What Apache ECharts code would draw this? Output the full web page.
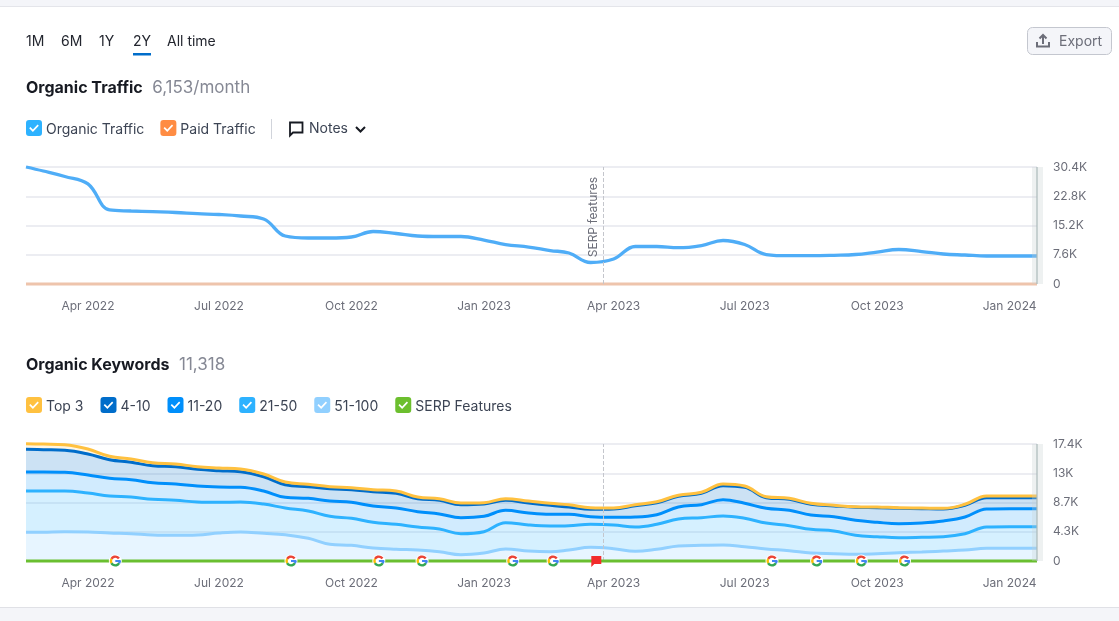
<!DOCTYPE html>
<html><head><meta charset="utf-8">
<style>html,body{margin:0;padding:0;background:#fff}#c{width:1119px;height:621px}</style>
<script src="https://cdn.jsdelivr.net/npm/echarts@6/dist/echarts.min.js"></script>
</head><body><div id="c"></div>
<script>
const dates = ['2022-02-17','2022-03-01','2022-03-16','2022-04-01','2022-04-16','2022-05-01','2022-05-16','2022-06-01','2022-06-16','2022-07-01','2022-07-16','2022-08-01','2022-08-16','2022-09-01','2022-09-16','2022-10-01','2022-10-16','2022-11-01','2022-11-16','2022-12-01','2022-12-16','2023-01-01','2023-01-16','2023-02-01','2023-02-16','2023-03-01','2023-03-16','2023-04-01','2023-04-16','2023-05-01','2023-05-16','2023-06-01','2023-06-16','2023-07-01','2023-07-16','2023-08-01','2023-08-16','2023-09-01','2023-09-16','2023-10-01','2023-10-16','2023-11-01','2023-11-16','2023-12-01','2023-12-16','2024-01-01','2024-01-20'];
const organicTraffic = [30400,29360,27930,26000,19230,18970,18790,18580,18270,18060,17670,16890,12470,11950,11950,12210,13640,13120,12470,12340,12340,11430,10260,9610,8700,8050,5590,6500,9740,9740,9430,10000,11300,10260,7660,7350,7350,7460,7660,8310,8960,8440,7790,7530,7280,7280,7280];
const paidTraffic = [0,0,0,0,0,0,0,0,0,0,0,0,0,0,0,0,0,0,0,0,0,0,0,0,0,0,0,0,0,0,0,0,0,0,0,0,0,0,0,0,0,0,0,0,0,0,0];
const top3 = [833,848,833,744,506,491,446,401,387,401,401,401,401,357,297,297,297,342,253,238,253,193,238,297,297,342,238,149,149,149,149,149,253,193,149,149,149,104,89,104,89,104,104,149,253,253,253];
const pos4to10 = [3375,3316,3271,3123,2766,2587,2528,2573,2483,2424,2320,2126,1874,1725,1829,1874,2126,2186,1933,2037,1933,1829,1487,1487,1338,1086,1100,1234,1680,1784,1591,1695,2082,2379,1576,1636,1591,1591,1933,2171,2290,2126,1784,1740,1680,1636,1636];
const pos11to20 = [2825,2825,2781,2677,2632,2573,2468,2424,2379,2275,2186,1933,1591,1888,2275,2379,2424,2424,2275,2231,2379,2290,1844,1784,1740,1695,1130,1145,1487,1428,1784,1933,2424,2231,2186,2290,2126,2126,2231,2141,2082,2126,2335,2483,2677,2677,2677];
const pos21to50 = [6141,6126,6067,5799,5502,5457,5309,5205,4907,4565,4461,4357,3970,4060,4164,4015,3822,3718,3420,3375,3123,3167,3911,3866,3822,3613,3420,3524,3613,3718,4015,4104,4312,4223,3866,3718,3524,3375,2825,2528,2231,2186,2126,2424,3167,3212,3212];
const pos51to100 = [4268,4283,4342,4312,4164,4060,3866,3822,3866,4164,4312,4119,3911,3375,2483,2335,1933,1740,1636,1383,937,1190,1784,1487,1383,1636,2037,1829,1442,1740,2231,2335,2379,2126,1784,1532,1190,1086,996,1086,1234,1338,1487,1636,1888,1888,1888];
const serpFeatures = [0,0,0,0,0,0,0,0,0,0,0,0,0,0,0,0,0,0,0,0,0,0,0,0,0,0,0,0,0,0,0,0,0,0,0,0,0,0,0,0,0,0,0,0,0,0,0];
const googleUpdateDates = ['2022-04-20','2022-08-20','2022-10-20','2022-11-19','2023-01-21','2023-02-18','2023-07-20','2023-08-20','2023-09-20','2023-10-20'];
const flagDates = ['2023-03-20'];
const serpNoteDate = '2023-03-25';
const xTickDates = ['2022-04-01','2022-07-01','2022-10-01','2023-01-01','2023-04-01','2023-07-01','2023-10-01','2024-01-01'];
const xTickLabels = ['Apr 2022','Jul 2022','Oct 2022','Jan 2023','Apr 2023','Jul 2023','Oct 2023','Jan 2024'];
const yTicksTraffic = ['0','7.6K','15.2K','22.8K','30.4K'];
const yTicksKeywords = ['0','4.3K','8.7K','13K','17.4K'];
const tabs = ['1M','6M','1Y','2Y','All time'];

const FONT = 'Inter, "Noto Sans", sans-serif';
const GRID_TXT = '#6c6e79', LEG_TXT = '#3c4454';
const ts = d => echarts.time.parse(d).getTime();
const xMin = ts(dates[0]);
const xMax = ts(dates[dates.length - 1]);
const tickTs = xTickDates.map(ts);
const checkIcon = 'path://M3 0H13A3 3 0 0 1 16 3V13A3 3 0 0 1 13 16H3A3 3 0 0 1 0 13V3A3 3 0 0 1 3 0Z M3.2 8.2L6.9 11.9L12.8 5.8L11.6 4.6L6.9 9.5L4.4 7Z';
const pts = arr => dates.map((d, i) => [d, arr[i]]);
const SMOOTH = 0.4;

function xAxis(gridIndex) {
  return {
    type: 'time', gridIndex, min: xMin, max: xMax, splitNumber: 7,
    axisLine: {show: false}, axisTick: {show: false}, splitLine: {show: false}, minorTick: {show: false},
    axisLabel: {
      hideOverlap: false, margin: 16, color: GRID_TXT, fontSize: 12, fontFamily: FONT, fontWeight: 400,
      formatter: v => xTickLabels[tickTs.indexOf(+v)] || ''
    }
  };
}
function yAxis(gridIndex, max, labels) {
  return {
    type: 'value', gridIndex, position: 'right', min: 0, max, interval: max / 4,
    axisLine: {show: false}, axisTick: {show: false},
    splitLine: {show: true, lineStyle: {color: '#e6e7ee', width: 1.5}},
    axisLabel: {margin: 16, color: GRID_TXT, fontSize: 12, fontFamily: FONT, padding: [0, 0, 4, 0],
      formatter: v => labels[Math.round(v / (max / 4))]}
  };
}
function band(name, arr, color, alpha) {
  return {name, type: 'line', xAxisIndex: 1, yAxisIndex: 1, stack: 'kw', smooth: SMOOTH,
    showSymbol: false, clip: false, data: pts(arr), itemStyle: {color},
    lineStyle: {color, width: 3}, areaStyle: {color, opacity: alpha}};
}
function gIcon(params, api) {
  const p = api.coord([api.value(0), api.value(1)]);
  const cx = p[0], cy = p[1], r = 4.4, lw = 2.4;
  const arc = (a, b, c) => ({type: 'arc', shape: {cx, cy, r, startAngle: a * Math.PI / 180, endAngle: b * Math.PI / 180, clockwise: true},
    style: {fill: 'none', stroke: c, lineWidth: lw}});
  return {type: 'group', children: [
    {type: 'circle', shape: {cx, cy, r: 6.5}, style: {fill: '#fff'}},
    arc(-150, -35, '#ea4335'), arc(150, 210, '#fbbc05'), arc(30, 150, '#34a853'), arc(0, 30, '#4285f4'),
    {type: 'rect', shape: {x: cx, y: cy - 1, width: r + 1, height: 2}, style: {fill: '#4285f4'}}
  ]};
}
function flagIcon(params, api) {
  const p = api.coord([api.value(0), api.value(1)]);
  const x = p[0], y = p[1];
  return {type: 'polygon', shape: {points: [[x - 5, y - 5], [x + 5, y - 5], [x + 5, y + 3], [x - 2, y + 3], [x - 5, y + 6]]}, style: {fill: '#f22c2c'}};
}
const T = (x, y, text, font, fill) => ({type: 'text', z: 5, style: {x, y, text, font, fill, textVerticalAlign: 'middle'}});
const tabX = [26, 61, 99, 133, 167];
const graphics = [
  {type: 'rect', z: 0, shape: {x: 0, y: 0, width: 1119, height: 6}, style: {fill: '#f4f5f9'}},
  {type: 'rect', z: 0, shape: {x: 0, y: 6, width: 1119, height: 1}, style: {fill: '#e4e5ea'}},
  {type: 'rect', z: 0, shape: {x: 0, y: 607, width: 1119, height: 14}, style: {fill: '#f4f5f9'}},
  {type: 'rect', z: 0, shape: {x: 0, y: 607, width: 1119, height: 1}, style: {fill: '#e0e1e6'}},
  ...tabs.map((t, i) => T(tabX[i], 42, t, '14px ' + FONT, '#23262f')),
  {type: 'rect', z: 5, shape: {x: 133, y: 53, width: 18, height: 2.5}, style: {fill: '#006dca'}},
  {type: 'rect', z: 5, shape: {x: 1027.5, y: 27.5, width: 84, height: 27, r: 5}, style: {fill: '#f4f5f9', stroke: '#c4c7cf', lineWidth: 1}},
  {type: 'polyline', z: 6, shape: {points: [[1037, 42], [1037, 46.5], [1049, 46.5], [1049, 42]]}, style: {fill: 'none', stroke: '#6c6e79', lineWidth: 2}},
  {type: 'polyline', z: 6, shape: {points: [[1043, 44], [1043, 35]]}, style: {fill: 'none', stroke: '#6c6e79', lineWidth: 2}},
  {type: 'polyline', z: 6, shape: {points: [[1039.5, 38.5], [1043, 35], [1046.5, 38.5]]}, style: {fill: 'none', stroke: '#6c6e79', lineWidth: 2}},
  T(1059, 41.5, 'Export', '14px ' + FONT, '#6c6e79'),
  {type: 'rect', z: 5, shape: {x: 271, y: 119, width: 1, height: 20}, style: {fill: '#d1d4db'}},
  {type: 'polygon', z: 5, shape: {points: [[290, 122.5], [302.5, 122.5], [302.5, 132.5], [293, 132.5], [290, 135.5]]}, style: {fill: 'none', stroke: '#171a22', lineWidth: 1.8}},
  T(309, 129, 'Notes', '14px ' + FONT, LEG_TXT),
  {type: 'polyline', z: 5, shape: {points: [[356, 127], [360.5, 131.5], [365, 127]]}, style: {fill: 'none', stroke: '#171a22', lineWidth: 2}},
  {type: 'rect', z: 20, shape: {x: 1032, y: 167, width: 11, height: 117}, style: {fill: 'rgba(200,210,210,0.3)'}},
  {type: 'rect', z: 21, shape: {x: 1036, y: 167, width: 2, height: 117}, style: {fill: 'rgba(170,185,185,0.6)'}},
  {type: 'rect', z: 20, shape: {x: 1032, y: 444, width: 11, height: 117}, style: {fill: 'rgba(200,210,210,0.3)'}},
  {type: 'rect', z: 21, shape: {x: 1036, y: 444, width: 2, height: 117}, style: {fill: 'rgba(170,185,185,0.6)'}}
];
const titleRich = {a: {fontSize: 16, fontWeight: 700, color: '#171a22', fontFamily: FONT}, b: {fontSize: 17, fontWeight: 400, color: '#858894', fontFamily: FONT, padding: [0, 0, 0, 1]}};
const legendText = {fontSize: 14, color: LEG_TXT, fontFamily: FONT, rich: {t: {fontSize: 14, color: LEG_TXT, fontFamily: FONT, padding: [4, 0, 0, -1]}}};
const serpLine = {silent: true, symbol: 'none', animation: false,
  lineStyle: {color: '#c4c6cc', type: 'dashed', width: 1},
  data: [{xAxis: serpNoteDate}]};
const chart = echarts.init(document.getElementById('c'));
chart.setOption({
  animation: false,
  backgroundColor: 'transparent',
  textStyle: {fontFamily: FONT},
  title: [
    {left: 26, top: 79, padding: 0, text: '{a|Organic Traffic}  {b|6,153/month}', textStyle: {rich: titleRich}},
    {left: 26, top: 356, padding: 0, text: '{a|Organic Keywords}  {b|11,318}', textStyle: {rich: titleRich}}
  ],
  legend: [
    {left: 26, top: 120, padding: 0, itemWidth: 16, itemHeight: 16, itemGap: 16, selectedMode: false, icon: checkIcon,
      formatter: n => '{t|' + n + '}', data: ['Organic Traffic', 'Paid Traffic'], textStyle: legendText},
    {left: 26, top: 397, padding: 0, itemWidth: 16, itemHeight: 16, itemGap: 17, selectedMode: false, icon: checkIcon,
      formatter: n => '{t|' + n + '}', data: ['Top 3', '4-10', '11-20', '21-50', '51-100', 'SERP Features'], textStyle: legendText}
  ],
  grid: [
    {left: 26, right: 82, top: 167, height: 117},
    {left: 26, right: 82, top: 444, height: 117}
  ],
  xAxis: [xAxis(0), xAxis(1)],
  yAxis: [yAxis(0, 30400, yTicksTraffic), yAxis(1, 17400, yTicksKeywords)],
  graphic: graphics,
  series: [
    {name: 'Paid Traffic', type: 'line', xAxisIndex: 0, yAxisIndex: 0, showSymbol: false, clip: false, data: pts(paidTraffic),
      itemStyle: {color: '#ff8c43'}, lineStyle: {color: '#eec4ac', width: 3}},
    {name: 'Organic Traffic', type: 'line', xAxisIndex: 0, yAxisIndex: 0, smooth: SMOOTH, showSymbol: false, clip: false, data: pts(organicTraffic),
      itemStyle: {color: '#2db2ff'}, lineStyle: {color: '#4fadf7', width: 3.3},
      markLine: Object.assign({}, serpLine, {label: {show: true, formatter: 'SERP features', position: 'insideEndTop', distance: 4, padding: [0, 6, 0, 0], color: GRID_TXT, fontSize: 12, fontFamily: FONT}})},
    band('51-100', pos51to100, '#91d0ff', 0.22),
    band('21-50', pos21to50, '#2db2ff', 0.2),
    band('11-20', pos11to20, '#008ffb', 0.18),
    band('4-10', pos4to10, '#006dca', 0.2),
    band('Top 3', top3, '#ffc140', 0.15),
    {name: 'SERP Features', type: 'line', xAxisIndex: 1, yAxisIndex: 1, showSymbol: false, clip: false, z: 5, data: pts(serpFeatures),
      itemStyle: {color: '#6cbf2e'}, lineStyle: {color: '#6abf30', width: 3},
      markLine: Object.assign({}, serpLine, {label: {show: false}})},
    {name: 'Google updates', type: 'custom', xAxisIndex: 1, yAxisIndex: 1, clip: false, z: 6, silent: true, renderItem: gIcon, encode: {x: 0, y: 1},
      data: googleUpdateDates.map(d => [d, 0])},
    {name: 'Flags', type: 'custom', xAxisIndex: 1, yAxisIndex: 1, clip: false, z: 6, silent: true, renderItem: flagIcon, encode: {x: 0, y: 1},
      data: flagDates.map(d => [d, 0])}
  ]
});
</script></body></html>
